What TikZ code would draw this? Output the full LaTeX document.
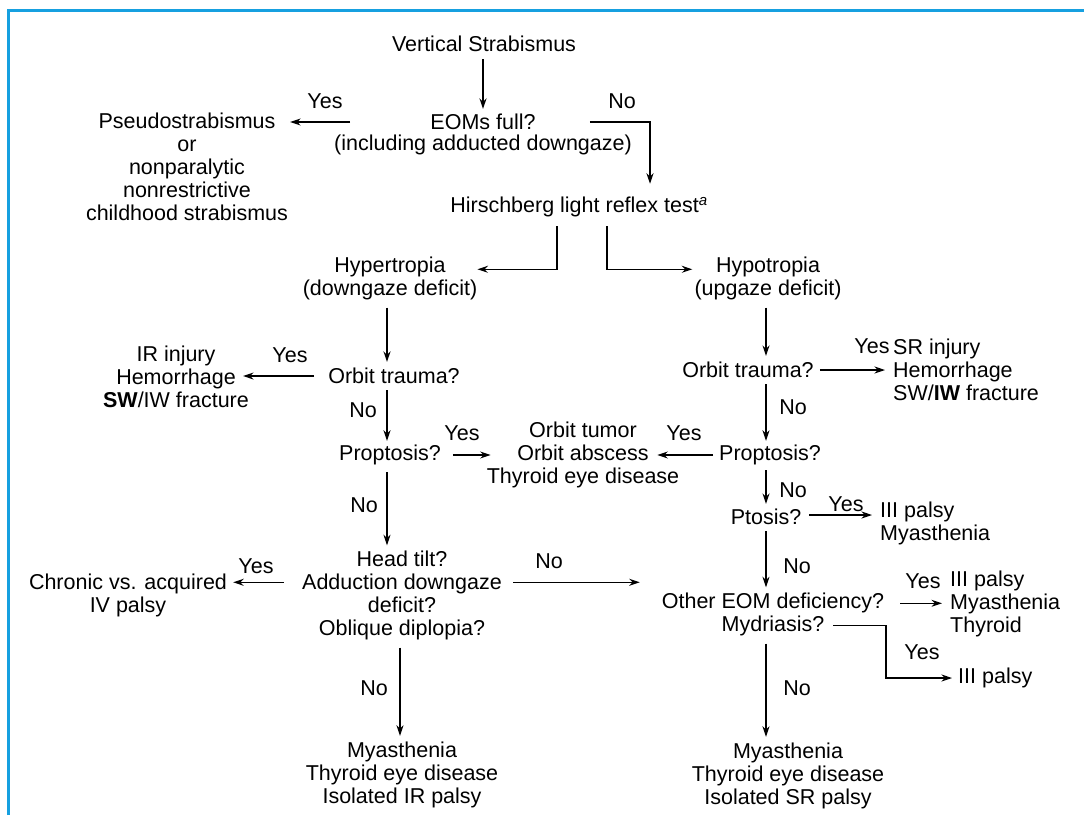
\documentclass[tikz,border=0pt]{standalone}
\usepackage{fontspec}
\setmainfont{Liberation Sans}
\usetikzlibrary{arrows.meta,calc}
\definecolor{frameblue}{RGB}{22,160,224}
\begin{document}
\begin{tikzpicture}[x=1pt,y=-1pt,
  every node/.style={inner sep=0pt, font=\fontsize{21.5}{23}\selectfont},
  box/.style={align=center},
  lbox/.style={align=left, anchor=west},
  arr/.style={line width=1.25pt, -{Stealth[length=10.5pt,width=7pt]}},
  heavy/.style={line width=2.1pt}]
\useasboundingbox (0,0) rectangle (1084,815);
\fill[white] (0,0) rectangle (1084,815);
% frame rule along the top and left edges
\draw[frameblue, line width=3pt] (8,815) -- (8,10) -- (1084,10);

% decision and outcome texts
\node (vs) at (484,44) {Vertical Strabismus};
\node (eomq) at (483,122) {EOMs full?};
\node (eoms) at (483,145) {(including adducted downgaze)};
\node[box] (pseudo) at (187,167) {Pseudostrabismus\\or\\nonparalytic\\nonrestrictive\\childhood strabismus};
\node (hirsch) at (579,207) {Hirschberg light reflex test\textsuperscript{\itshape a}};
\node[box] (hyper) at (390,278) {Hypertropia\\(downgaze deficit)};
\node[box] (hypo) at (768,278) {Hypotropia\\(upgaze deficit)};
\node (otL) at (394,376) {Orbit trauma?};
\node[box] (irinj) at (176,377) {IR injury\\Hemorrhage\\\textbf{SW}/IW fracture};
\node (propL) at (390,455) {Proptosis?};
\node[box] (orbit) at (583,455) {Orbit tumor\\Orbit abscess\\Thyroid eye disease};
\node (otR) at (748,370) {Orbit trauma?};
\node[lbox] (srinj) at (893,370) {SR injury\\Hemorrhage\\SW/\textbf{IW} fracture};
\node (propR) at (770,455) {Proptosis?};
\node (ptosis) at (766,517) {Ptosis?};
\node[lbox] (p3a) at (880,523) {III palsy\\Myasthenia};
\node[box] (other) at (773,614) {Other EOM deficiency?\\Mydriasis?};
\node[lbox] (p3b) at (950,604) {III palsy\\Myasthenia\\Thyroid};
\node[lbox] (p3c) at (958,678) {III palsy};
\node[box] (head) at (402,595) {Head tilt?\\Adduction downgaze\\deficit?\\Oblique diplopia?};
\node[box] (chronic) at (128,595) {Chronic vs. acquired\\IV palsy};
\node[box] (myaL) at (402,775) {Myasthenia\\Thyroid eye disease\\Isolated IR palsy};
\node[box] (myaR) at (788,776) {Myasthenia\\Thyroid eye disease\\Isolated SR palsy};

% branch labels
\node (y1) at (325,101) {Yes};
\node (n1) at (622,101) {No};
\node (y2) at (290,355) {Yes};
\node (n2) at (363,410) {No};
\node (y3) at (462,433) {Yes};
\node (y4) at (684,433) {Yes};
\node (y5) at (872,346) {Yes};
\node (n3) at (793,407) {No};
\node (n4) at (793,490) {No};
\node (y6) at (846,504) {Yes};
\node (n5) at (797,566) {No};
\node (y7) at (923,581) {Yes};
\node (y8) at (922,652) {Yes};
\node (n6) at (549,561) {No};
\node (y9) at (256,566) {Yes};
\node (n7) at (364,505) {No};
\node (n8) at (374,688) {No};
\node (n9) at (797,688) {No};

% connectors
\draw[arr,heavy] ($(vs.south)+(-1,7)$) -- ($(eomq.north)+(0,-5)$);
\draw[arr] ($(eomq.west)+(-80,0)$) -- ($(eomq.west -| pseudo.east)+(2,0)$);
\draw[arr] ($(eomq.east)+(54,0)$) -| ($(hirsch.north)+(71,-13)$);
\draw[arr] ($(hirsch.south)+(-22,9)$) |- ($(hyper.north east)+(0,13)$);
\draw[arr] ($(hirsch.south)+(28,9)$) |- ($(hypo.north west)+(-2,13)$);
\draw[arr,heavy] ($(hyper.south)+(-3,8)$) -- ($(hyper.south |- otL.north)+(-3,-6)$);
\draw[arr] ($(otL.west)+(-14,0)$) -- ($(otL.west -| irinj.east)+(-6,0)$);
\draw[arr] ($(otL.south)+(-7,6)$) -- ($(otL.south |- propL.north)+(-7,-4)$);
\draw[arr] ($(propL.east)+(12,0)$) -- ($(propL.east -| orbit.west)+(4,0)$);
\draw[arr] ($(hypo.south)+(-2,8)$) -- ($(hypo.south |- otR.north)+(-2,-6)$);
\draw[arr] ($(otR.east)+(6,0)$) -- ($(otR.east -| srinj.west)+(-8,0)$);
\draw[arr] ($(otR.south)+(18,6)$) -- ($(otR.south |- propR.north)+(18,-4)$);
\draw[arr] ($(propR.west)+(-6,0)$) -- ($(propR.west -| orbit.east)+(-22,0)$);
\draw[arr] ($(propR.south)+(-4,5)$) -- ($(propR.south |- ptosis.north)+(-4,-5)$);
\draw[arr] ($(ptosis.east)+(8,-2)$) -- ($(ptosis.east -| p3a.west)+(-8,-2)$);
\draw[arr] ($(ptosis.south)+(0,6)$) -- ($(ptosis.south |- other.north)+(0,-5)$);
\draw[arr] ($(other.north east)+(16,11)$) -- ($(other.north east -| p3b.west)+(-8,11)$);
\draw[arr] ($(other.south)+(60,-10)$) -- ++(53,0) |- ($(p3c.west)+(-6,0)$);
\draw[arr] ($(other.south)+(-7,8)$) -- ($(other.south |- myaR.north)+(-7,-6)$);
\draw[arr] ($(propL.south)+(-3,7)$) -- ($(propL.south |- head.north)+(-3,-5)$);
\draw[arr] ($(head.north west)+(-18,32)$) -- ($(head.north west -| chronic.east)+(6,32)$);
\draw[arr] ($(head.north east)+(11,32)$) -- ($(head.north east -| other.west)+(-22,32)$);
\draw[arr] ($(head.south)+(-2,8)$) -- ($(head.south |- myaL.north)+(-2,-6)$);
\end{tikzpicture}
\end{document}
